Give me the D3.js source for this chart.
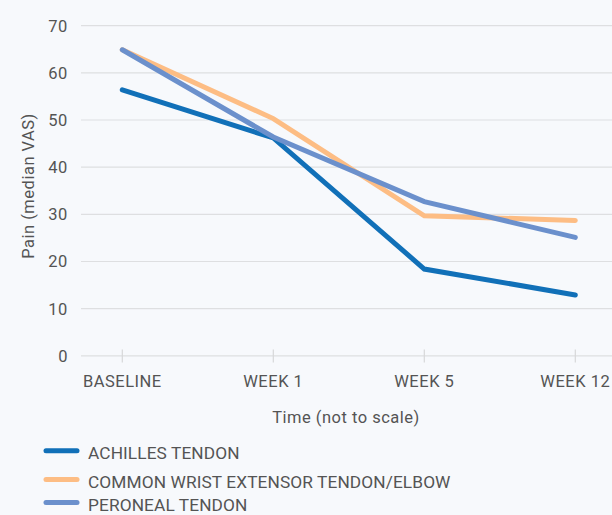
<!DOCTYPE html>
<html><head><meta charset="utf-8">
<script src="https://cdn.jsdelivr.net/npm/d3@7"></script>
<style>
html,body{margin:0;padding:0;background:#f7f9fc;}
svg{display:block;}
text{font-family:Roboto,"Noto Sans",sans-serif;fill:#545454;}
</style></head>
<body>
<svg id="c" width="612" height="515"></svg>
<script>
const categories = ["BASELINE", "WEEK 1", "WEEK 5", "WEEK 12"];
const achilles = [56.4, 46.2, 18.4, 12.9];
const wrist = [64.9, 50.3, 29.7, 28.7];
const peroneal = [64.9, 46.4, 32.7, 25.1];
const seriesNames = ["ACHILLES TENDON", "COMMON WRIST EXTENSOR TENDON/ELBOW", "PERONEAL TENDON"];
const seriesColors = ["#1170b8", "#fdbd84", "#6b90cc"];
const yTicks = [0, 10, 20, 30, 40, 50, 60, 70];

const series = [achilles, wrist, peroneal].map((v, i) => ({name: seriesNames[i], color: seriesColors[i], values: v}));

const svg = d3.select("#c");
svg.append("rect").attr("width", 612).attr("height", 515).attr("fill", "#f7f9fc");

const plotL = 81, plotR = 612;
const x = d3.scalePoint().domain(categories).range([122.3, 575.3]);
const y = d3.scaleLinear().domain([0, 70]).range([355.8, 25.7]);

svg.append("g").selectAll("line").data(yTicks).join("line")
  .attr("x1", plotL).attr("x2", plotR)
  .attr("y1", d => y(d)).attr("y2", d => y(d))
  .attr("stroke", "#dedfe1").attr("stroke-width", 1.2);

svg.append("g").selectAll("text").data(yTicks).join("text")
  .attr("x", 68).attr("y", d => y(d)).attr("dy", "0.36em")
  .attr("text-anchor", "end").attr("font-size", 16.5).attr("letter-spacing", 0.6).text(d => d);

svg.append("g").selectAll("line").data(categories).join("line")
  .attr("x1", d => x(d)).attr("x2", d => x(d))
  .attr("y1", 349.5).attr("y2", 362.5)
  .attr("stroke", "#d6d7d9").attr("stroke-width", 1.2);

svg.append("g").selectAll("text").data(categories).join("text")
  .attr("x", d => x(d)).attr("y", 386.7)
  .attr("text-anchor", "middle").attr("font-size", 16.5).attr("letter-spacing", 0.5).text(d => d);

svg.append("text").attr("x", 346).attr("y", 423).attr("text-anchor", "middle")
  .attr("font-size", 16.5).attr("letter-spacing", 0.5).text("Time (not to scale)");
svg.append("text").attr("transform", "translate(34,186) rotate(-90)")
  .attr("text-anchor", "middle").attr("font-size", 16.5).attr("letter-spacing", 0.5).text("Pain (median VAS)");

const line = d3.line().x((d, i) => x(categories[i])).y(d => y(d));
svg.append("g").selectAll("path").data(series).join("path")
  .attr("d", d => line(d.values))
  .attr("fill", "none").attr("stroke", d => d.color)
  .attr("stroke-width", 5).attr("stroke-linecap", "round").attr("stroke-linejoin", "miter");

const legY = [450.7, 479.5, 502.5];
const leg = svg.append("g").selectAll("g").data(series).join("g")
  .attr("transform", (d, i) => `translate(0,${legY[i]})`);
leg.append("line").attr("x1", 46).attr("x2", 77).attr("y1", 0).attr("y2", 0)
  .attr("stroke", d => d.color).attr("stroke-width", 5).attr("stroke-linecap", "round");
leg.append("text").attr("x", 88).attr("y", 8.0).attr("font-size", 17.3).attr("letter-spacing", 0.1).text(d => d.name);
</script>
</body></html>
